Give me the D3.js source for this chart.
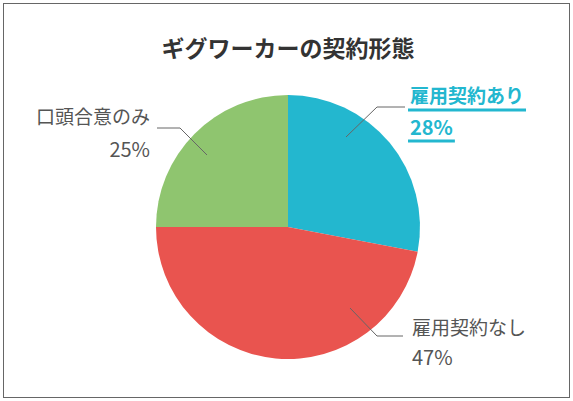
<!DOCTYPE html>
<html><head><meta charset="utf-8">
<script src="https://cdn.jsdelivr.net/npm/d3@7"></script>
<style>body{margin:0;background:#fff}text{font-family:"Noto Sans CJK JP","Noto Sans",sans-serif}</style>
</head><body><svg id="chart"></svg>
<script>
const title = "ギグワーカーの契約形態";
const categories = ["雇用契約あり", "雇用契約なし", "口頭合意のみ"];
const values = [28, 47, 25];
const colors = ["#23b7cf", "#e9544f", "#8fc56f"];

const width = 573, height = 401;
const cx = 288, cy = 227, r = 132;

const svg = d3.select("#chart").attr("width", width).attr("height", height);

svg.append("rect").attr("x", 3.5).attr("y", 3.5).attr("width", width - 7).attr("height", height - 7)
  .attr("fill", "none").attr("stroke", "#666").attr("stroke-width", 1);

svg.append("text").attr("x", cx).attr("y", 57).attr("text-anchor", "middle")
  .attr("font-size", 23).attr("font-weight", 700).attr("fill", "#333").text(title);

const pie = d3.pie().sort(null).value(d => d)(values);
const arc = d3.arc().innerRadius(0).outerRadius(r);

const g = svg.append("g").attr("transform", `translate(${cx},${cy})`);
g.selectAll("path").data(pie).enter().append("path")
  .attr("d", arc).attr("fill", (d, i) => colors[i]);

// 注釈（引き出し線とラベル）
const labels = [
  {pts: [[346,137],[377,107],[405,107]], x: 410, y1: 103, y2: 135, anchor: "start", color: "#23b7cf", bold: true},
  {pts: [[350,308],[377,336],[403,336]], x: 412, y1: 335, y2: 365, anchor: "start", color: "#555", bold: false},
  {pts: [[207,155],[180,128],[157,128]], x: 150, y1: 124, y2: 157, anchor: "end", color: "#555", bold: false}
];

labels.forEach((l, i) => {
  svg.append("path").attr("d", d3.line()(l.pts)).attr("fill", "none")
    .attr("stroke", "#666").attr("stroke-width", 1);
  const t1 = svg.append("text").attr("x", l.x).attr("y", l.y1).attr("text-anchor", l.anchor)
    .attr("font-size", 19).attr("font-weight", l.bold ? 700 : 400).attr("fill", l.color).text(categories[i]);
  const t2 = svg.append("text").attr("x", l.x).attr("y", l.y2).attr("text-anchor", l.anchor)
    .attr("font-size", 20).attr("font-weight", l.bold ? 700 : 400).attr("fill", l.color).text(values[i] + "%");
  if (l.bold) {
    [t1, t2].forEach((t, k) => {
      const b = t.node().getBBox();
      svg.append("line").attr("x1", b.x - 2).attr("x2", b.x + b.width + 2)
        .attr("y1", k ? 141 : 110).attr("y2", k ? 141 : 110)
        .attr("stroke", l.color).attr("stroke-width", 3);
    });
  }
});
</script></body></html>
